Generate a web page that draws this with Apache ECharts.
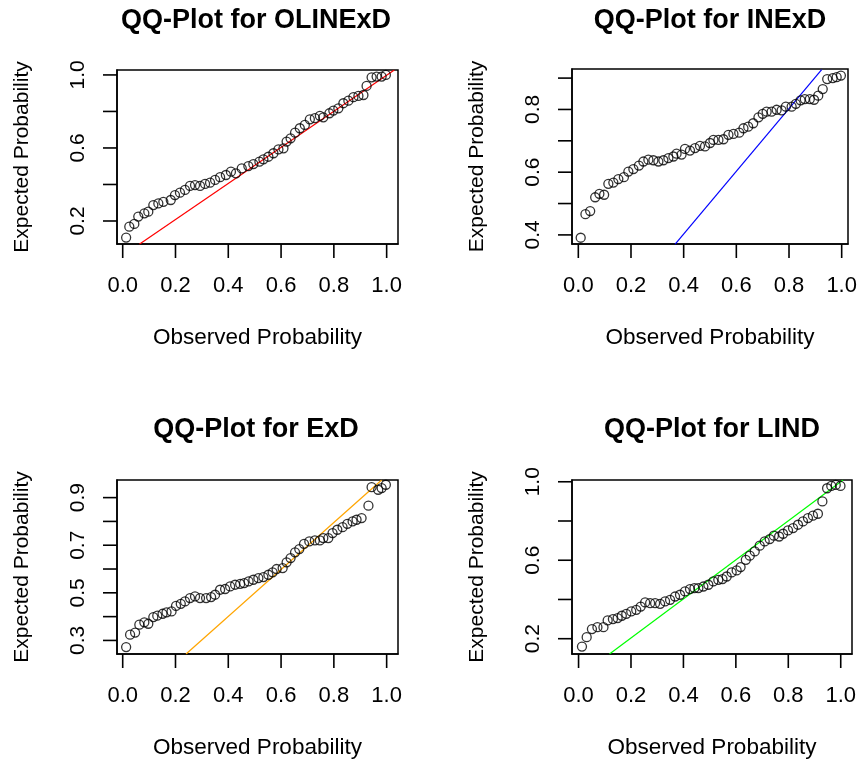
<!DOCTYPE html>
<html>
<head>
<meta charset="utf-8">
<script src="https://cdn.jsdelivr.net/npm/echarts@6/dist/echarts.min.js"></script>
<style>html,body{margin:0;padding:0;background:#fff;}#c{width:859px;height:760px;}</style>
</head>
<body>
<div id="c"></div>
<script>
// ---------- data ----------
const titles = ['QQ-Plot for OLINExD', 'QQ-Plot for INExD', 'QQ-Plot for ExD', 'QQ-Plot for LIND'];
const xAxisTitle = 'Observed Probability';
const yAxisTitle = 'Expected Probability';

const xTicks = [0.0, 0.2, 0.4, 0.6, 0.8, 1.0];
const yTicks1 = [0.2, 0.4, 0.6, 0.8, 1.0];
const yLabels1 = [0.2, 0.6, 1.0];
const yTicks2 = [0.4, 0.5, 0.6, 0.7, 0.8, 0.9];
const yLabels2 = [0.4, 0.6, 0.8];
const yTicks3 = [0.3, 0.4, 0.5, 0.6, 0.7, 0.8, 0.9];
const yLabels3 = [0.3, 0.5, 0.7, 0.9];
const yTicks4 = [0.2, 0.4, 0.6, 0.8, 1.0];
const yLabels4 = [0.2, 0.6, 1.0];

const olinexdObs = [0.013,0.025,0.044,0.059,0.082,0.097,0.116,0.135,0.154,0.182,0.198,0.217,0.236,0.255,0.274,0.293,0.312,0.331,0.350,0.369,0.391,0.410,0.429,0.451,0.476,0.495,0.518,0.533,0.552,0.571,0.590,0.609,0.621,0.636,0.653,0.671,0.690,0.709,0.728,0.747,0.760,0.783,0.798,0.817,0.836,0.855,0.874,0.893,0.912,0.924,0.943,0.962,0.981,0.997];
const olinexdExp = [0.109,0.169,0.184,0.224,0.242,0.251,0.287,0.296,0.305,0.315,0.342,0.355,0.370,0.392,0.397,0.392,0.403,0.410,0.425,0.440,0.452,0.470,0.461,0.488,0.501,0.512,0.525,0.538,0.552,0.571,0.592,0.598,0.635,0.653,0.684,0.708,0.726,0.757,0.763,0.776,0.768,0.790,0.805,0.817,0.845,0.859,0.878,0.885,0.890,0.940,0.987,0.991,0.991,1.000];
const olinexdLine = [[0.063, 0.072], [1.029, 1.027]];

const inexdObs = [0.009,0.027,0.045,0.064,0.080,0.098,0.114,0.133,0.152,0.173,0.190,0.209,0.230,0.247,0.266,0.285,0.304,0.323,0.342,0.361,0.373,0.392,0.405,0.424,0.443,0.462,0.481,0.500,0.513,0.532,0.551,0.570,0.589,0.611,0.627,0.645,0.664,0.684,0.700,0.715,0.734,0.753,0.772,0.788,0.810,0.826,0.844,0.860,0.879,0.895,0.911,0.928,0.945,0.966,0.981,0.997];
const inexdExp = [0.391,0.466,0.476,0.520,0.531,0.528,0.563,0.567,0.578,0.584,0.602,0.610,0.621,0.634,0.640,0.638,0.634,0.638,0.645,0.650,0.659,0.656,0.674,0.669,0.677,0.684,0.682,0.693,0.703,0.703,0.705,0.719,0.722,0.726,0.740,0.745,0.756,0.775,0.786,0.793,0.793,0.799,0.797,0.809,0.809,0.818,0.829,0.833,0.833,0.831,0.844,0.865,0.897,0.900,0.903,0.908];
const inexdLine = [[0.367, 0.370], [0.924, 0.927]];

const exdObs = [0.013,0.028,0.047,0.063,0.082,0.097,0.116,0.131,0.151,0.166,0.185,0.202,0.220,0.236,0.255,0.274,0.293,0.316,0.335,0.350,0.369,0.388,0.407,0.426,0.445,0.460,0.477,0.495,0.514,0.533,0.552,0.568,0.583,0.606,0.621,0.636,0.653,0.669,0.687,0.707,0.728,0.747,0.760,0.779,0.795,0.813,0.833,0.851,0.871,0.886,0.905,0.931,0.943,0.968,0.981,0.997];
const exdExp = [0.272,0.324,0.333,0.366,0.376,0.370,0.398,0.404,0.412,0.418,0.422,0.445,0.454,0.464,0.478,0.485,0.478,0.478,0.482,0.492,0.513,0.516,0.527,0.534,0.538,0.541,0.548,0.555,0.562,0.566,0.576,0.586,0.600,0.604,0.628,0.646,0.670,0.684,0.706,0.716,0.720,0.720,0.730,0.730,0.751,0.765,0.776,0.790,0.800,0.807,0.814,0.866,0.944,0.933,0.940,0.954];
const exdLine = [[0.240, 0.243], [0.981, 0.974]];

const lindObs = [0.013,0.031,0.051,0.072,0.095,0.111,0.131,0.149,0.165,0.182,0.201,0.220,0.237,0.254,0.273,0.292,0.311,0.330,0.349,0.368,0.387,0.406,0.425,0.442,0.457,0.476,0.495,0.514,0.533,0.549,0.565,0.584,0.603,0.618,0.638,0.653,0.672,0.691,0.710,0.729,0.745,0.765,0.780,0.799,0.818,0.837,0.856,0.875,0.894,0.913,0.930,0.948,0.964,0.981,0.999];
const lindExp = [0.160,0.208,0.249,0.259,0.259,0.293,0.300,0.305,0.317,0.327,0.339,0.347,0.364,0.385,0.381,0.381,0.378,0.390,0.398,0.415,0.424,0.441,0.453,0.458,0.458,0.466,0.475,0.492,0.500,0.504,0.517,0.538,0.548,0.565,0.602,0.623,0.645,0.674,0.696,0.708,0.725,0.721,0.735,0.752,0.764,0.781,0.798,0.815,0.827,0.837,0.900,0.967,0.979,0.984,0.979];
const lindLine = [[0.118, 0.122], [1.009, 1.009]];

// ---------- layout / style ----------
const FONT = '"Liberation Sans", Arial, Helvetica, sans-serif';
const TICK_LEN = 14;
const TICK_W = 1.6;
const panels = [
  {obs: olinexdObs, exp: olinexdExp, line: olinexdLine, color: '#FF0000', yTicks: yTicks1, yLabels: yLabels1,
   grid: {left: 117, top: 70, width: 281, height: 174}, xr: [-0.0216, 1.043], yr: [0.074, 1.027], tx: 256, ty: 21},
  {obs: inexdObs, exp: inexdExp, line: inexdLine, color: '#0000FF', yTicks: yTicks2, yLabels: yLabels2,
   grid: {left: 572, top: 69, width: 276, height: 175}, xr: [-0.024, 1.024], yr: [0.371, 0.929], tx: 710, ty: 21},
  {obs: exdObs, exp: exdExp, line: exdLine, color: '#FFA500', yTicks: yTicks3, yLabels: yLabels3,
   grid: {left: 117, top: 480, width: 281, height: 174}, xr: [-0.0216, 1.043], yr: [0.243, 0.974], tx: 256, ty: 430},
  {obs: lindObs, exp: lindExp, line: lindLine, color: '#00FF00', yTicks: yTicks4, yLabels: yLabels4,
   grid: {left: 572, top: 480, width: 280, height: 174}, xr: [-0.025, 1.043], yr: [0.122, 1.009], tx: 712, ty: 430}
];

const fmt = v => Number(v).toFixed(1);
const grids = [], xAxes = [], yAxes = [], series = [], graphics = [];

panels.forEach((p, i) => {
  grids.push(Object.assign({show: true, borderColor: '#000', borderWidth: 1.5, backgroundColor: 'transparent',
    containLabel: false, outerBoundsMode: 'none'}, p.grid));
  xAxes.push({
    type: 'value', gridIndex: i, min: p.xr[0], max: p.xr[1], position: 'bottom',
    splitLine: {show: false},
    axisLine: {show: true, onZero: false, lineStyle: {color: '#000', width: 1.5}},
    axisTick: {show: false},
    axisLabel: {show: true, customValues: xTicks, formatter: fmt, margin: 31, fontSize: 22, color: '#000', fontFamily: FONT},
    name: xAxisTitle, nameLocation: 'middle', nameGap: 82,
    nameTextStyle: {fontSize: 22.5, color: '#000', fontFamily: FONT}
  });
  yAxes.push({
    type: 'value', gridIndex: i, min: p.yr[0], max: p.yr[1], position: 'left',
    splitLine: {show: false},
    axisLine: {show: true, onZero: false, lineStyle: {color: '#000', width: 1.5}},
    axisTick: {show: false},
    axisLabel: {show: true, customValues: p.yLabels, formatter: fmt, rotate: 90, margin: 28, fontSize: 21, color: '#000', fontFamily: FONT},
    name: yAxisTitle, nameLocation: 'middle', nameGap: 84,
    nameTextStyle: {fontSize: 21, color: '#000', fontFamily: FONT}
  });
  series.push({
    type: 'line', xAxisIndex: i, yAxisIndex: i, data: p.line, symbol: 'none', clip: true,
    lineStyle: {color: p.color, width: 1.2}, silent: true, animation: false, z: 2
  });
  series.push({
    type: 'scatter', xAxisIndex: i, yAxisIndex: i,
    data: p.obs.map((x, k) => [x, p.exp[k]]),
    symbol: 'circle', symbolSize: 9,
    itemStyle: {color: 'rgba(0,0,0,0)', borderColor: '#000', borderWidth: 1.3},
    animation: false, z: 3
  });
  graphics.push({
    type: 'text', x: p.tx, y: p.ty, z: 10,
    style: {text: titles[i], font: 'bold 27px ' + FONT, fill: '#000', align: 'center', verticalAlign: 'middle'}
  });
});

const chart = echarts.init(document.getElementById('c'), null, {renderer: 'canvas'});
chart.setOption({
  backgroundColor: '#fff',
  animation: false,
  grid: grids, xAxis: xAxes, yAxis: yAxes, series: series
});

// tick marks: positions obtained from the library's own axis scales
panels.forEach((p, i) => {
  xTicks.forEach(v => {
    const c = chart.convertToPixel({gridIndex: i}, [v, p.yr[0]]);
    graphics.push({type: 'line', z: 10, silent: true,
      shape: {x1: c[0], y1: c[1], x2: c[0], y2: c[1] + TICK_LEN},
      style: {stroke: '#000', lineWidth: TICK_W}});
  });
  p.yTicks.forEach(v => {
    const c = chart.convertToPixel({gridIndex: i}, [p.xr[0], v]);
    graphics.push({type: 'line', z: 10, silent: true,
      shape: {x1: c[0] - TICK_LEN, y1: c[1], x2: c[0], y2: c[1]},
      style: {stroke: '#000', lineWidth: TICK_W}});
  });
});
chart.setOption({graphic: graphics});
</script>
</body>
</html>
